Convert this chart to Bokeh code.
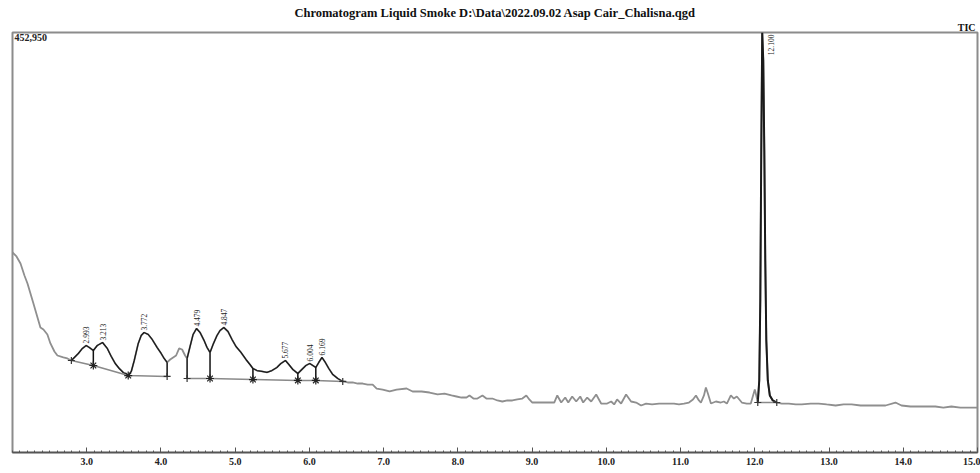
import numpy as np
from bokeh.plotting import figure
from bokeh.models import Range1d, FixedTicker, Label, NumeralTickFormatter, Title
from bokeh.embed import file_html
from bokeh.resources import INLINE
from bokeh.core.properties import value

# ---- data ----
time_min = [2.000, 2.054, 2.108, 2.161, 2.202, 2.282, 2.376, 2.417, 2.470, 2.511, 2.565, 2.605, 2.685, 2.739,
            2.793, 2.887, 2.941, 2.993, 3.035, 3.089, 3.142, 3.213, 3.277, 3.331, 3.384, 3.438, 3.492, 3.559,
            3.600, 3.640, 3.694, 3.734, 3.772, 3.828, 3.882, 3.949, 4.003, 4.043, 4.083, 4.124, 4.164, 4.204,
            4.245, 4.285, 4.325, 4.352, 4.392, 4.433, 4.479, 4.527, 4.581, 4.621, 4.661, 4.702, 4.755, 4.796,
            4.847, 4.903, 4.957, 5.011, 5.078, 5.145, 5.199, 5.239, 5.293, 5.360, 5.427, 5.495, 5.562, 5.616,
            5.677, 5.723, 5.777, 5.844, 5.898, 5.952, 6.004, 6.046, 6.086, 6.126, 6.169, 6.207, 6.261, 6.315,
            6.382, 6.449, 6.516, 6.583, 6.651, 6.718, 6.785, 6.852, 6.906, 6.987, 7.081, 7.175, 7.309, 7.390,
            7.511, 7.618, 7.726, 7.820, 7.914, 7.981, 8.048, 8.116, 8.156, 8.210, 8.263, 8.331, 8.384, 8.465,
            8.532, 8.599, 8.667, 8.734, 8.801, 8.868, 8.922, 8.962, 9.003, 9.070, 9.137, 9.218, 9.298, 9.339,
            9.392, 9.446, 9.487, 9.540, 9.594, 9.648, 9.688, 9.742, 9.796, 9.863, 9.930, 10.011, 10.065, 10.105,
            10.145, 10.199, 10.266, 10.333, 10.401, 10.468, 10.535, 10.616, 10.710, 10.804, 10.911, 10.978,
            11.046, 11.113, 11.167, 11.207, 11.247, 11.274, 11.315, 11.341, 11.368, 11.409, 11.476, 11.543,
            11.583, 11.624, 11.677, 11.718, 11.758, 11.825, 11.892, 11.946, 11.973, 12.000, 12.020, 12.040,
            12.060, 12.074, 12.087, 12.100, 12.114, 12.128, 12.141, 12.155, 12.175, 12.202, 12.242, 12.296,
            12.363, 12.457, 12.551, 12.632, 12.753, 12.860, 12.968, 13.089, 13.196, 13.304, 13.425, 13.532,
            13.653, 13.761, 13.895, 13.976, 14.097, 14.204, 14.325, 14.433, 14.540, 14.648, 14.769, 14.876,
            15.000]
intensity = [215700, 211400, 203800, 190900, 182300, 160700, 134800, 132700, 127300, 117600, 108900, 104600,
             102500, 101400, 99200, 106800, 112200, 115400, 113200, 110000, 115400, 118600, 112200, 103500,
             96000, 90600, 86300, 83000, 87400, 99200, 117600, 126200, 129400, 127300, 121900, 113200, 106800,
             101400, 97100, 100300, 102500, 104600, 112200, 111100, 104600, 101400, 114300, 127300, 133700,
             129400, 120800, 113200, 107900, 116500, 126200, 131600, 134800, 130500, 121900, 114300, 107900,
             100300, 94900, 90600, 88400, 87400, 86300, 88400, 91700, 96000, 99200, 94900, 89500, 85200, 89500,
             93800, 96000, 93800, 91700, 97100, 102500, 98100, 90600, 84100, 79800, 76600, 75500, 75500, 74400,
             74400, 73300, 73300, 69000, 67900, 65800, 67900, 69000, 65800, 65800, 64700, 62600, 63600, 61500,
             60400, 59300, 59300, 61500, 58200, 58200, 61500, 58200, 58200, 56100, 55000, 56100, 56100, 57200,
             58200, 61500, 57200, 53900, 53900, 53900, 53900, 53900, 61500, 53900, 59300, 53900, 60400, 55000,
             60400, 53900, 59300, 55000, 62600, 52800, 52800, 55000, 51800, 57200, 52800, 62600, 55000, 53900,
             50700, 52800, 51800, 52800, 52800, 52800, 51800, 52800, 53900, 57200, 61500, 56100, 53900, 61500,
             70100, 63600, 52800, 55000, 53900, 55000, 52800, 61500, 58200, 60400, 53900, 52800, 52800, 60400,
             67900, 61500, 53900, 77700, 163900, 325700, 452950, 422800, 325700, 207100, 120800, 77700, 61500,
             56100, 53900, 52800, 52800, 51800, 51800, 52800, 52800, 51800, 50700, 51800, 51800, 50700, 50700,
             50700, 50700, 53900, 50700, 49600, 49600, 49600, 49600, 48500, 49600, 48500, 48500, 48500]

peak_rt = [2.993, 3.213, 3.772, 4.479, 4.847, 5.677, 6.004, 6.169]
peak_labels = ["2.993", "3.213", "3.772", "4.479", "4.847", "5.677", "6.004", "6.169"]
peak_height = [115400, 118600, 129400, 133700, 134800, 99200, 96000, 102500]
main_peak_rt = 12.100
main_peak_label = "12.100"

# integration marks: time, baseline level, kind, group
bound_t = [2.793, 3.089, 3.559, 4.083, 4.352, 4.661, 5.239, 5.844, 6.086, 6.449, 12.040, 12.296]
bound_base = [99200, 93800, 83000, 82000, 79800, 79800, 78700, 77700, 77700, 76600, 53900, 53900]
bound_kind = ["start", "join", "join", "end", "start", "join", "join", "join", "join", "end", "start", "end"]
bound_group = [0, 0, 0, 0, 1, 1, 1, 1, 1, 1, 2, 2]

tick_values = [3.0, 4.0, 5.0, 6.0, 7.0, 8.0, 9.0, 10.0, 11.0, 12.0, 13.0, 14.0, 15.0]
y_max = 452950
title_text = "Chromatogram Liquid Smoke D:\\Data\\2022.09.02 Asap Cair_Chalisna.qgd"

# ---- figure ----
SERIF = "Liberation Serif"
p = figure(width=980, height=473, output_backend="svg", toolbar_location=None,
           x_range=Range1d(2.0, 15.0), y_range=Range1d(0, y_max),
           y_axis_location=None, min_border_left=12, min_border_right=3,
           min_border_top=32, min_border_bottom=21)
p.grid.visible = False
p.background_fill_color = "white"
p.border_fill_color = "white"
p.outline_line_color = "#8c8c8c"
p.outline_line_width = 2

main_title = Title(text=title_text, align="center", text_font=SERIF, text_font_size="12.5px",
                   text_font_style="bold", text_color="#111111", standoff=0, offset=0)
tic_title = Title(text="TIC", align="right", text_font=SERIF, text_font_size="10px",
                  text_font_style="bold", text_color="#111111", standoff=0, offset=2)
p.title = None
p.above = [tic_title, main_title]

ax = p.xaxis[0]
ax.ticker = FixedTicker(ticks=tick_values, minor_ticks=list(np.round(np.arange(2.0, 15.001, 0.1), 2)))
ax.formatter = NumeralTickFormatter(format="0.0")
ax.major_tick_in = 5
ax.major_tick_out = 0
ax.minor_tick_in = 2
ax.minor_tick_out = 0
ax.axis_line_color = "#555555"
ax.axis_line_width = 1.5
ax.major_tick_line_color = "#555555"
ax.minor_tick_line_color = "#555555"
ax.major_label_text_font = SERIF
ax.major_label_text_font_size = "10px"
ax.major_label_text_font_style = "bold"
ax.major_label_text_color = "#222222"
ax.major_label_standoff = 5

t = np.array(time_min)
y = np.array(intensity)

# whole trace (gray)
p.line(t, y, line_color="#8f8f8f", line_width=1.8)

# integrated sections (black)
for g in sorted(set(bound_group)):
    ts = [bt for bt, bg in zip(bound_t, bound_group) if bg == g]
    m = (t >= min(ts)) & (t <= max(ts))
    p.line(t[m], y[m], line_color="#1a1a1a", line_width=1.3 if g < 2 else 2.0)

# baselines
xs, ys = [], []
for g in sorted(set(bound_group)):
    xs.append([bt for bt, bg in zip(bound_t, bound_group) if bg == g])
    ys.append([bb for bb, bg in zip(bound_base, bound_group) if bg == g])
p.multi_line(xs, ys, line_color="#8a8a8a", line_width=1.6)

# drop lines
drop_x, drop_y = [], []
for bt, bb, bk in zip(bound_t, bound_base, bound_kind):
    top = float(np.interp(bt, t, y))
    if top - bb > 2000:
        drop_x.append([bt, bt])
        drop_y.append([bb, top])
p.multi_line(drop_x, drop_y, line_color="#111111", line_width=1.5)

# markers
se_t = [bt for bt, bk in zip(bound_t, bound_kind) if bk != "join"]
se_b = [bb for bb, bk in zip(bound_base, bound_kind) if bk != "join"]
jn_t = [bt for bt, bk in zip(bound_t, bound_kind) if bk == "join"]
jn_b = [bb for bb, bk in zip(bound_base, bound_kind) if bk == "join"]
p.scatter(se_t, se_b, marker="cross", size=7, line_color="#333333", line_width=1.2)
p.scatter(jn_t, jn_b, marker="asterisk", size=8, line_color="#222222", line_width=1.2)

# peak labels
p.text(x=peak_rt, y=peak_height, text=peak_labels, angle=np.pi / 2,
       text_align="left", text_baseline="middle", y_offset=-2,
       text_font=value(SERIF), text_font_size="7.5px", text_color="#222222")
p.add_layout(Label(x=main_peak_rt, y=y_max, text=main_peak_label, angle=np.pi / 2,
                   x_offset=9, y_offset=-2, text_align="right", text_baseline="middle",
                   text_font=SERIF, text_font_size="7.5px", text_color="#222222"))

# corner texts
p.add_layout(Label(x=2.0, y=y_max, text="452,950", x_offset=2, y_offset=-1,
                   text_align="left", text_baseline="top", text_font=SERIF,
                   text_font_size="10px", text_font_style="bold", text_color="#222222"))
p.add_layout(Label(x=15.0, y=0, text="min", x_offset=-8, y_offset=-12,
                   text_align="center", text_baseline="top", text_font=SERIF,
                   text_font_size="8px", text_font_style="bold", text_color="#222222"))

open("out.html", "w").write(file_html(p, INLINE))
